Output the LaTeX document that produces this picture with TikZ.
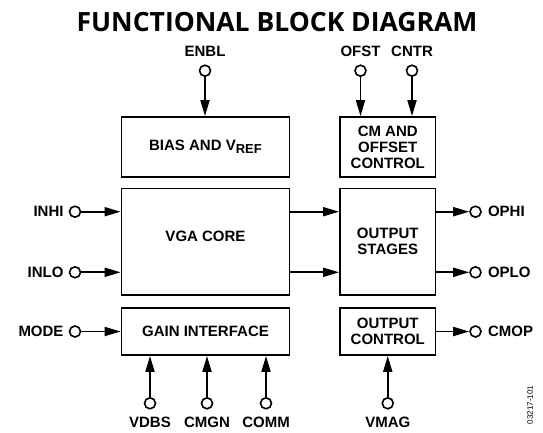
\documentclass[tikz,border=0pt]{standalone}
\usepackage{fontspec}
\setmainfont{Liberation Sans}
\newfontfamily\titlefont{Open Sans}
\usetikzlibrary{arrows.meta,positioning}

\begin{document}
\begin{tikzpicture}[x=1pt,y=-1pt]

\tikzstyle{block} = [draw=black, line width=1.8pt, align=center, inner sep=0pt, font=\bfseries\fontsize{15}{16}\selectfont]
\tikzstyle{pin} = [circle, draw=black, line width=1.6pt, minimum size=11pt, inner sep=0pt]
\tikzstyle{pinlabel} = [inner sep=0pt, font=\bfseries\fontsize{15}{16}\selectfont]
\tikzstyle{sig} = [-{Triangle[length=16pt,width=9pt]}, line width=1.8pt]

\useasboundingbox (0,0) rectangle (543,432);

	\node[font=\titlefont\bfseries\fontsize{26.5}{27}\selectfont] (title) at (277,22.5) {FUNCTIONAL BLOCK DIAGRAM};

%------------------------------------------------------------
	\node[block, minimum width=168pt, minimum height=60pt] (bias) at (205.5,147) {BIAS AND V\raisebox{-3pt}{\fontsize{13}{13}\selectfont REF}};
	\node[block, minimum width=95.5pt, minimum height=60pt] (cm) at (387.75,147) {CM AND\\OFFSET\\CONTROL};

	\node[block, minimum width=168pt, minimum height=106.5pt] (vga) at (205.5,241.75) {\raisebox{11pt}{VGA CORE}};
	\node[block, minimum width=95.5pt, minimum height=106.5pt] (out) at (387.75,241.75) {OUTPUT\\STAGES};

	\node[block, minimum width=168pt, minimum height=47pt] (gain) at (205.5,331.5) {GAIN INTERFACE};
	\node[block, minimum width=95.5pt, minimum height=47pt] (octl) at (387.75,331.5) {OUTPUT\\CONTROL};

%------------------------------------------------------------
	\node[pin] (enbl) at (205,70.7) {};
	\node[pin] (ofst) at (360.5,70.7) {};
	\node[pin] (cntr) at (412,70.7) {};

	\node[pin] (inhi) at (75,211.7) {};
	\node[pin] (inlo) at (75,272.3) {};
	\node[pin] (mode) at (75,331.5) {};

	\node[pin] (ophi) at (475.5,211.7) {};
	\node[pin] (oplo) at (475.5,272.3) {};
	\node[pin] (cmop) at (475.5,331.5) {};

	\node[pin] (vdbs) at (150,403.3) {};
	\node[pin] (cmgn) at (207,403.3) {};
	\node[pin] (comm) at (266,403.3) {};
	\node[pin] (vmag) at (387.75,403.3) {};

%------------------------------------------------------------
	\node[pinlabel, above=7.5pt of enbl] {ENBL};
	\node[pinlabel, above=7.5pt of ofst] {OFST};
	\node[pinlabel, above=7.5pt of cntr] {CNTR};

	\node[pinlabel, left=5pt of inhi] {INHI};
	\node[pinlabel, left=5pt of inlo] {INLO};
	\node[pinlabel, left=5pt of mode] {MODE};

	\node[pinlabel, right=6pt of ophi] {OPHI};
	\node[pinlabel, right=6pt of oplo] {OPLO};
	\node[pinlabel, right=6pt of cmop] {CMOP};

	\node[pinlabel, below=7pt of vdbs] {VDBS};
	\node[pinlabel, below=7pt of cmgn] {CMGN};
	\node[pinlabel, below=7pt of comm] {COMM};
	\node[pinlabel, below=7pt of vmag] {VMAG};

	\node[rotate=90, inner sep=0pt, font=\fontsize{8}{8}\selectfont] (fig) at (530,405) {03217-101};

%------------------------------------------------------------
	\path[sig] (enbl) edge (enbl |- bias.north);
	\path[sig] (ofst) edge (ofst |- cm.north);
	\path[sig] (cntr) edge (cntr |- cm.north);

	\path[sig] (inhi) edge (vga.west |- inhi);
	\path[sig] (inlo) edge (vga.west |- inlo);
	\path[sig] (mode) edge (gain.west |- mode);

	\path[sig] (vga.east |- inhi) edge (out.west |- inhi);
	\path[sig] (vga.east |- inlo) edge (out.west |- inlo);

	\path[sig] (out.east |- ophi) edge (ophi);
	\path[sig] (out.east |- oplo) edge (oplo);
	\path[sig] (octl.east |- cmop) edge (cmop);

	\path[sig] (vdbs) edge (vdbs |- gain.south);
	\path[sig] (cmgn) edge (cmgn |- gain.south);
	\path[sig] (comm) edge (comm |- gain.south);
	\path[sig] (vmag) edge (vmag |- octl.south);

\end{tikzpicture}
\end{document}
